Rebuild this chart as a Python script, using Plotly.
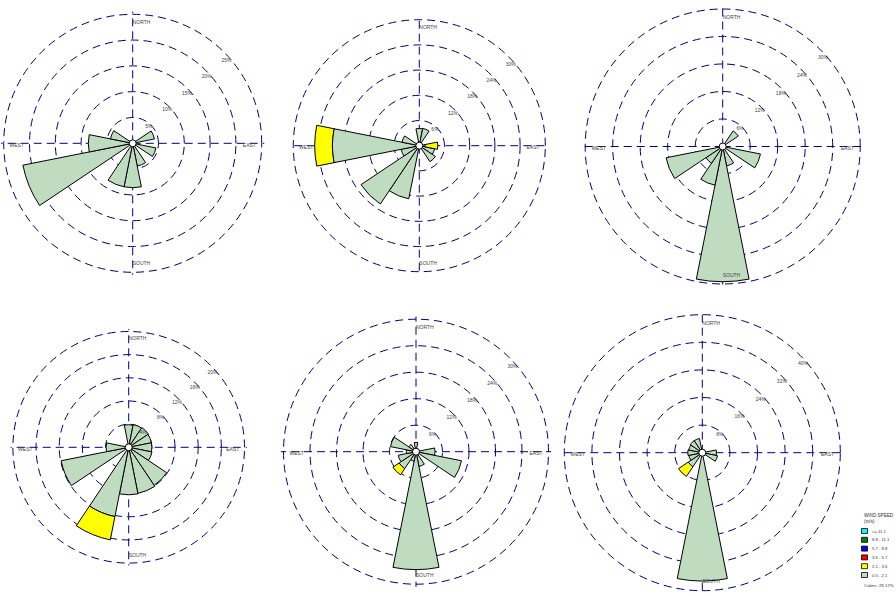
import plotly.graph_objects as go

# 16-point compass sectors, clockwise from north
DIRECTIONS = ["N", "NNE", "NE", "ENE", "E", "ESE", "SE", "SSE",
              "S", "SSW", "SW", "WSW", "W", "WNW", "NW", "NNW"]
COMPASS_DEG = {d: i * 360 / len(DIRECTIONS) for i, d in enumerate(DIRECTIONS)}

# wind speed classes (m/s) and their colours
SPEED_BINS = [">= 11.1", "8.8 - 11.1", "5.7 - 8.8", "3.6 - 5.7", "2.1 - 3.6", "0.5 - 2.1"]
SPEED_COLORS = ["#00ffff", "#008000", "#0000ff", "#ff0000", "#ffff00", "#c0dcc0"]
CALMS = "29.17%"

# frequency (%) per direction; LOW = 0.5-2.1 m/s, MID = 2.1-3.6 m/s
ROSE1_LOW = [0, 0, 0, 4.3, 0, 4.6, 0, 4.5, 8.6, 8.6, 0, 21.7, 8.6, 4.4, 0, 0]
ROSE1_MID = [0, 0, 0, 0, 0, 0, 0, 0, 0, 0, 0, 0, 0, 0, 0, 0]
ROSE1_RINGS = [5, 10, 15, 20, 25]

ROSE2_LOW = [4.1, 4.2, 0, 0, 1.4, 3.7, 4.6, 0, 0, 12.9, 16.7, 4.4, 20.7, 4.2, 0, 0]
ROSE2_MID = [0, 0, 0, 0, 3.0, 0, 0, 0, 0, 0, 0, 0, 4.2, 0, 0, 0]
ROSE2_RINGS = [6, 12, 18, 24, 30]

ROSE3_LOW = [0, 0, 4.1, 0, 0, 8.4, 0, 4.3, 29.5, 8.6, 4.4, 12.6, 0, 0, 0, 0]
ROSE3_MID = [0, 0, 0, 0, 0, 0, 0, 0, 0, 0, 0, 0, 0, 0, 0, 0]
ROSE3_RINGS = [6, 12, 18, 24, 30]

ROSE4_LOW = [3.9, 4.0, 4.1, 4.0, 4.0, 4.1, 7.9, 8.1, 8.2, 12.2, 0, 11.9, 3.9, 0, 0, 0]
ROSE4_MID = [0, 0, 0, 0, 0, 0, 0, 0, 0, 4.1, 0, 0, 0, 0, 0, 0]
ROSE4_RINGS = [4, 8, 12, 16, 20]

ROSE5_LOW = [2.1, 0, 0, 0, 4.3, 10.5, 0, 3.4, 26.7, 2.2, 4.6, 4.1, 2.2, 5.9, 2.0, 0]
ROSE5_MID = [0, 0, 0, 0, 0, 0, 0, 0, 0, 0, 1.7, 0, 0, 0, 0, 0]
ROSE5_RINGS = [6, 12, 18, 24, 30]

ROSE6_LOW = [0, 0, 0, 0, 4.1, 4.5, 0, 0, 37.2, 0, 4.9, 4.0, 4.2, 4.0, 4.2, 4.2]
ROSE6_MID = [0, 0, 0, 0, 0, 0, 0, 0, 0, 0, 3.4, 0, 0, 0, 0, 0]
ROSE6_RINGS = [8, 16, 24, 32, 40]

COMPASS_TEXT = ["NORTH", "EAST", "SOUTH", "WEST"]

W, H = 896, 596
GRID = "#00007a"
TEXT = "#444444"
FONT = "Liberation Sans, Arial, sans-serif"
PAD = 1.02  # radial headroom so the outermost ring is still drawn

# panel placement in pixels: centre and radius of the outer ring
panels = [
    dict(low=ROSE1_LOW, mid=ROSE1_MID, rings=ROSE1_RINGS, cx=132.7, cy=143.3, R=129.0),
    dict(low=ROSE2_LOW, mid=ROSE2_MID, rings=ROSE2_RINGS, cx=419.3, cy=145.7, R=126.0),
    dict(low=ROSE3_LOW, mid=ROSE3_MID, rings=ROSE3_RINGS, cx=722.7, cy=146.5, R=137.5),
    dict(low=ROSE4_LOW, mid=ROSE4_MID, rings=ROSE4_RINGS, cx=128.7, cy=447.3, R=115.8),
    dict(low=ROSE5_LOW, mid=ROSE5_MID, rings=ROSE5_RINGS, cx=416.0, cy=451.7, R=132.5),
    dict(low=ROSE6_LOW, mid=ROSE6_MID, rings=ROSE6_RINGS, cx=702.3, cy=452.7, R=138.0),
]

theta = [COMPASS_DEG[d] for d in DIRECTIONS]
sector = 360 / len(DIRECTIONS)


def nz(vals):
    return [v if v > 0 else None for v in vals]


fig = go.Figure()
layout = {}
for i, p in enumerate(panels, start=1):
    sub = "polar" if i == 1 else f"polar{i}"
    rmax = p["rings"][-1]
    R = p["R"] * PAD

    fig.add_trace(go.Barpolar(
        r=nz(p["low"]), theta=theta, width=sector, subplot=sub,
        name=SPEED_BINS[5], showlegend=False,
        marker=dict(color=SPEED_COLORS[5], line=dict(color="black", width=1)),
    ))
    fig.add_trace(go.Barpolar(
        r=nz(p["mid"]), theta=theta, width=sector, subplot=sub,
        name=SPEED_BINS[4], showlegend=False,
        marker=dict(color=SPEED_COLORS[4], line=dict(color="black", width=1)),
    ))
    # ring percentage labels
    fig.add_trace(go.Scatterpolar(
        r=p["rings"], theta=[50] * len(p["rings"]), subplot=sub,
        mode="text", text=[f"{v}%" for v in p["rings"]],
        textposition="middle left", cliponaxis=False, showlegend=False,
        textfont=dict(size=5, color=TEXT, family=FONT), hoverinfo="skip",
    ))
    # compass labels just inside the outer ring
    fig.add_trace(go.Scatterpolar(
        r=[rmax * 0.955] * 4, theta=[0, 90, 180, 270], subplot=sub,
        mode="text", text=COMPASS_TEXT,
        textposition=["bottom right", "bottom left", "top right", "bottom right"],
        cliponaxis=False, showlegend=False,
        textfont=dict(size=5, color=TEXT, family=FONT), hoverinfo="skip",
    ))
    # calm centre
    fig.add_trace(go.Scatterpolar(
        r=[0], theta=[0], subplot=sub, mode="markers", showlegend=False,
        marker=dict(size=7, color="white", line=dict(color="black", width=1)),
        cliponaxis=False, hoverinfo="skip",
    ))

    layout[sub] = dict(
        domain=dict(x=[(p["cx"] - R) / W, (p["cx"] + R) / W],
                    y=[1 - (p["cy"] + R) / H, 1 - (p["cy"] - R) / H]),
        bgcolor="rgba(0,0,0,0)",
        barmode="stack",
        radialaxis=dict(
            range=[0, rmax * PAD], tickvals=p["rings"], showticklabels=False,
            ticks="", showline=False, gridcolor=GRID, gridwidth=1.45,
            griddash="8px,5px", layer="below traces",
        ),
        angularaxis=dict(
            rotation=90, direction="clockwise", tickvals=[0, 90, 180, 270],
            showticklabels=False, ticks="", showline=False, gridcolor=GRID,
            gridwidth=1.45, griddash="8px,5px", layer="below traces",
        ),
    )

fig.update_layout(**layout)

# speed class key in the lower right corner
LEG_X = 861.5
ROW0 = 531.0
ROW = 8.8
BOX_W, BOX_H = 6.0, 5.0
shapes, annotations = [], []
annotations.append(dict(x=LEG_X / W, y=1 - 515.5 / H, xref="paper", yref="paper",
                        text="WIND SPEED", showarrow=False, xanchor="left", yanchor="middle",
                        font=dict(size=4.6, color="#333333", family=FONT)))
annotations.append(dict(x=LEG_X / W, y=1 - 521.0 / H, xref="paper", yref="paper",
                        text="(m/s)", showarrow=False, xanchor="left", yanchor="middle",
                        font=dict(size=4.6, color="#333333", family=FONT)))
for j, (lab, col) in enumerate(zip(SPEED_BINS, SPEED_COLORS)):
    yc = ROW0 + j * ROW
    shapes.append(dict(type="rect", xref="paper", yref="paper",
                       x0=LEG_X / W, x1=(LEG_X + BOX_W) / W,
                       y0=1 - (yc + BOX_H / 2) / H, y1=1 - (yc - BOX_H / 2) / H,
                       fillcolor=col, line=dict(color="black", width=0.8)))
    annotations.append(dict(x=(LEG_X + BOX_W + 2.5) / W, y=1 - yc / H,
                            xref="paper", yref="paper", text=lab, showarrow=False,
                            xanchor="left", yanchor="middle",
                            font=dict(size=4.2, color="#333333", family=FONT)))
annotations.append(dict(x=LEG_X / W, y=1 - 585.5 / H, xref="paper", yref="paper",
                        text=f"Calms: {CALMS}", showarrow=False, xanchor="left",
                        yanchor="middle", font=dict(size=4.4, color="#333333", family=FONT)))

fig.update_layout(
    width=W, height=H, template="none",
    paper_bgcolor="white", plot_bgcolor="white",
    margin=dict(l=0, r=0, t=0, b=0, pad=0),
    showlegend=False, shapes=shapes, annotations=annotations,
    font=dict(family=FONT),
)

fig.write_html("out.html")
